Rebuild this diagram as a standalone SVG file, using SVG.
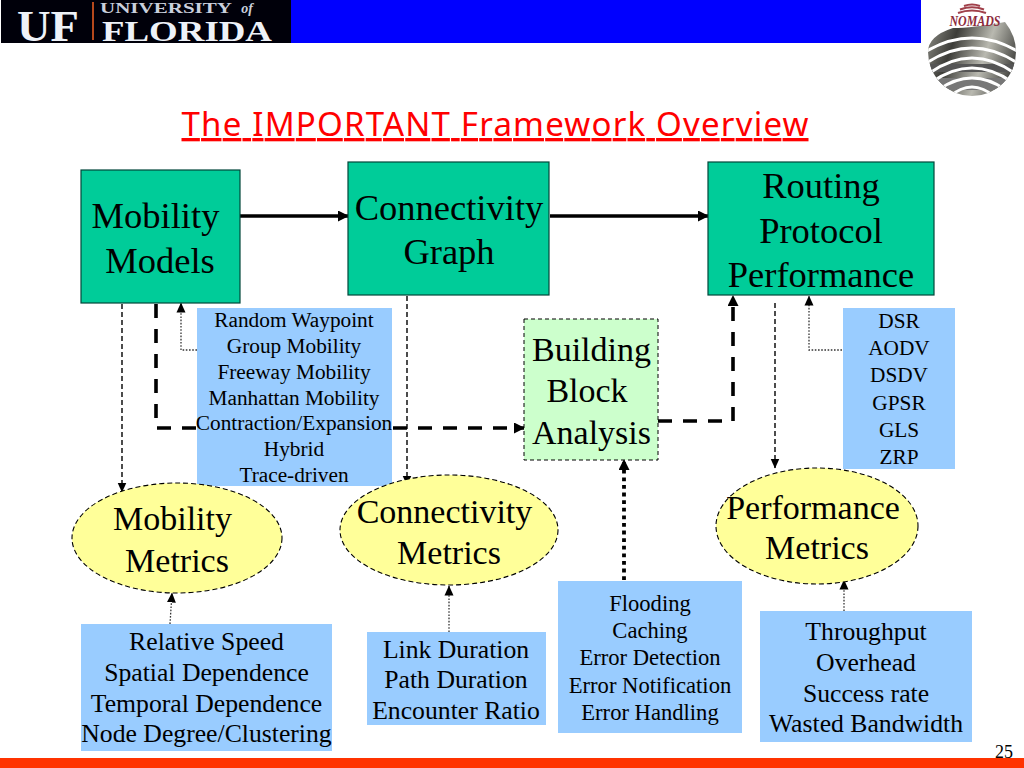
<svg xmlns="http://www.w3.org/2000/svg" width="1024" height="768" viewBox="0 0 1024 768">
<style>
text{font-family:"Liberation Serif","Times New Roman",serif;fill:#000;text-anchor:middle}
.g{fill:#00cc99;stroke:#00473a;stroke-width:1.2}
.y{fill:#ffff99;stroke:#000;stroke-width:1.1;stroke-dasharray:5 3}
.b{fill:#99ccff}
.t36{font-size:36.500px}.t34{font-size:34px}
.t25{font-size:25.700px}.t22{font-size:22.600px}.t21{font-size:21.300px}
.c{fill:none;stroke:#000}
.thick{stroke-width:3.6}
.dash{stroke-width:3.6;stroke-dasharray:14 11}
.thin{stroke-width:1.4;stroke-dasharray:5 3}
.dot{stroke-width:1.3;stroke-dasharray:1.6 1.6;stroke:#333}
.dotb{stroke-width:3.8;stroke-dasharray:3.800 3.800}
</style>
<defs>
<marker id="a" markerWidth="10" markerHeight="10" refX="9.500" refY="5" orient="auto" markerUnits="userSpaceOnUse"><path d="M0 0.500L10 5L0 9.500z"/></marker>
<marker id="ab" markerWidth="11" markerHeight="11" refX="10" refY="5.500" orient="auto" markerUnits="userSpaceOnUse"><path d="M0 0L11 5.500L0 11z"/></marker>
<linearGradient id="gl" x1="0" x2="1" y1="0" y2="0.300"><stop offset="0" stop-color="#9a9a92"/><stop offset=".35" stop-color="#3c3c38"/><stop offset=".7" stop-color="#b9b9b0"/><stop offset="1" stop-color="#4c4c48"/></linearGradient>
</defs>
<rect width="1024" height="768" fill="#fff"/>
<g id="header">
<rect x="291" y="0" width="630" height="43" fill="#0000ff"/>
<rect x="1" y="0" width="290" height="43" fill="#00000a"/>
<text x="48" y="41" style="font-size:44px;font-weight:bold;fill:#eef2f8" textLength="62" lengthAdjust="spacingAndGlyphs">UF</text>
<rect x="92" y="2" width="2" height="38" fill="#b5481c"/>
<text x="166" y="13" style="font-size:14px;font-weight:bold;fill:#c9cfdc" textLength="132" lengthAdjust="spacingAndGlyphs">UNIVERSITY</text>
<text x="247" y="13" style="font-size:14px;font-weight:bold;font-style:italic;fill:#c9cfdc">of</text>
<text x="187" y="41" style="font-size:29px;font-weight:bold;fill:#eef2f8" textLength="170" lengthAdjust="spacingAndGlyphs">FLORIDA</text>
<rect x="0" y="758" width="1024" height="10" fill="#ff3300"/>
<text x="1004" y="758" style="font-size:18px">25</text>
</g>
<g id="nomads-logo">
<clipPath id="gc"><path d="M928 52A44 44 0 0 0 1016 52Q1016 36 1005 22Q972 28 953 28Q928 36 928 52z"/></clipPath>
<g clip-path="url(#gc)">
<rect x="925" y="20" width="95" height="80" fill="url(#gl)"/>
<path d="M930 64H1014V72H930z" fill="#555"/><path d="M936 78H1006V90H936z" fill="#777"/>
<g fill="none" stroke="#fff" stroke-width="3">
<path d="M925 52Q972 24 1019 52"/><path d="M925 64Q972 32 1019 64"/><path d="M928 74Q972 42 1016 74"/><path d="M932 82Q972 54 1012 82"/><path d="M938 90Q972 66 1006 90"/><path d="M948 98Q972 76 996 98"/>
</g>
</g>
<g fill="none" stroke="#a0404a" stroke-width="2.200">
<path d="M964 6Q972 3 980 6"/><path d="M960 9.500Q972 5 984 9.500"/><path d="M958 13Q972 8 986 13"/>
</g>
<text x="975" y="26" style="font-size:14.500px;font-weight:bold;font-style:italic;fill:#8c2a3c" textLength="51" lengthAdjust="spacingAndGlyphs">NOMADS</text>
</g>
<text id="title" x="495" y="136" style="font-family:'Noto Sans',sans-serif;font-size:33px;fill:#ff0000;text-decoration:underline" textLength="627" lengthAdjust="spacing">The IMPORTANT Framework Overview</text>
<g id="connectors">
<path class="c thick" marker-end="url(#ab)" d="M240 216H348"/>
<path class="c thick" marker-end="url(#ab)" d="M550 216H708"/>
<path class="c thin" marker-end="url(#a)" d="M122 304V492"/>
<path class="c thin" marker-end="url(#a)" d="M407 296V485"/>
<path class="c thin" marker-end="url(#a)" d="M775 303V468"/>
<path class="c dash" d="M156 304V428H197"/>
<path class="c dash" marker-end="url(#ab)" d="M393 428H524"/>
<path class="c dash" marker-end="url(#ab)" d="M658 421H733V296"/>
<path class="c dot" marker-end="url(#a)" d="M197 350H181V303"/>
<path class="c dot" marker-end="url(#a)" d="M842 350H809V296"/>
<path class="c dotb" marker-end="url(#ab)" d="M624 580V460"/>
<path class="c dot" marker-end="url(#a)" d="M170 624L172 593"/>
<path class="c dot" marker-end="url(#a)" d="M449 632V586"/>
<path class="c dot" marker-end="url(#a)" d="M844 611V580"/>
</g>
<g id="mobility-models"><rect class="g" x="81" y="170" width="159" height="133"/><text class="t36" x="155.500" y="228">Mobility</text><text class="t36" x="160" y="273">Models</text></g>
<g id="connectivity-graph"><rect class="g" x="348" y="162" width="201" height="133"/><text class="t36" x="449" y="220">Connectivity</text><text class="t36" x="449" y="264">Graph</text></g>
<g id="routing"><rect class="g" x="708" y="162" width="226" height="133"/><text class="t36" x="821" y="198">Routing</text><text class="t36" x="821" y="243">Protocol</text><text class="t36" x="821" y="287">Performance</text></g>
<g id="building-block"><rect x="524" y="319" width="134" height="141" fill="#ccffcc" stroke="#000" stroke-width="1" stroke-dasharray="4 3"/><text class="t34" x="591.500" y="361">Building</text><text class="t34" x="587" y="402">Block</text><text class="t34" x="591.500" y="444">Analysis</text></g>
<g id="mobility-list"><rect class="b" x="197" y="308" width="195" height="178"/><g class="t21"><text x="294" y="327">Random Waypoint</text><text x="294" y="353">Group Mobility</text><text x="294" y="379">Freeway Mobility</text><text x="294" y="405">Manhattan Mobility</text><text x="294" y="430">Contraction/Expansion</text><text x="294" y="456">Hybrid</text><text x="294" y="482">Trace-driven</text></g></g>
<g id="routing-list"><rect class="b" x="843" y="308" width="112" height="161"/><g class="t21"><text x="899" y="328">DSR</text><text x="899" y="355">AODV</text><text x="899" y="382">DSDV</text><text x="899" y="410">GPSR</text><text x="899" y="437">GLS</text><text x="899" y="464">ZRP</text></g></g>
<g id="mobility-metrics"><ellipse class="y" cx="177" cy="538" rx="105" ry="55"/><text class="t34" x="172.500" y="530">Mobility</text><text class="t34" x="177" y="572">Metrics</text></g>
<g id="connectivity-metrics"><ellipse class="y" cx="449" cy="530" rx="109" ry="55"/><text class="t34" x="444.500" y="523">Connectivity</text><text class="t34" x="449" y="564">Metrics</text></g>
<g id="performance-metrics"><ellipse class="y" cx="817" cy="526" rx="101" ry="58"/><text class="t34" x="813" y="519">Performance</text><text class="t34" x="817" y="559">Metrics</text></g>
<g id="mobility-metric-list"><rect class="b" x="81" y="624" width="251" height="127"/><g class="t25"><text x="206.500" y="650">Relative Speed</text><text x="206.500" y="681">Spatial Dependence</text><text x="206.500" y="712">Temporal Dependence</text><text x="206.500" y="742">Node Degree/Clustering</text></g></g>
<g id="connectivity-metric-list"><rect class="b" x="367" y="632" width="179" height="93"/><g class="t25"><text x="456" y="658">Link Duration</text><text x="456" y="688">Path Duration</text><text x="456" y="719">Encounter Ratio</text></g></g>
<g id="building-list"><rect class="b" x="558" y="581" width="184" height="152"/><g class="t22"><text x="650" y="611">Flooding</text><text x="650" y="638">Caching</text><text x="650" y="665">Error Detection</text><text x="650" y="693">Error Notification</text><text x="650" y="720">Error Handling</text></g></g>
<g id="performance-metric-list"><rect class="b" x="760" y="611" width="212" height="131"/><g class="t25"><text x="866" y="640">Throughput</text><text x="866" y="671">Overhead</text><text x="866" y="702">Success rate</text><text x="866" y="732">Wasted Bandwidth</text></g></g>
</svg>
